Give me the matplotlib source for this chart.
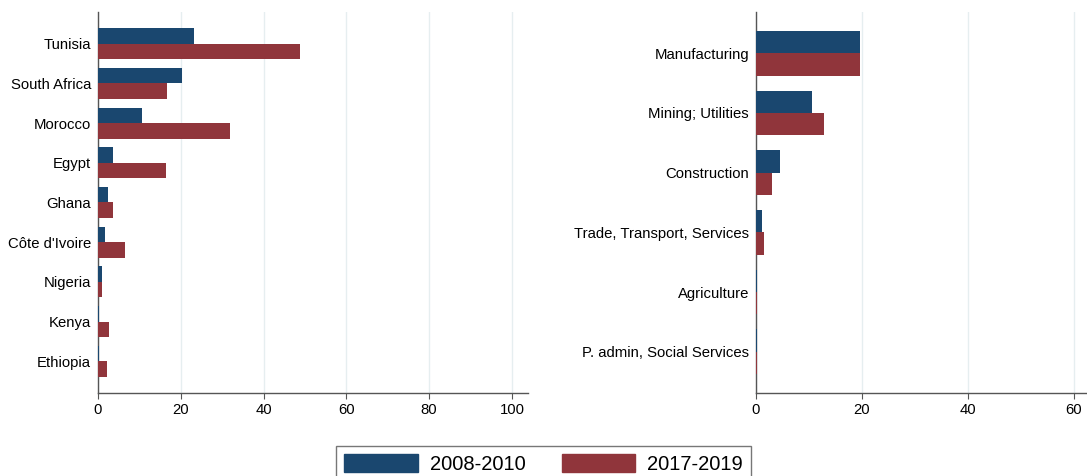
import matplotlib.pyplot as plt
import numpy as np

plt.rcParams['font.family'] = ['Liberation Sans', 'DejaVu Sans']

countries = ["Tunisia", "South Africa", "Morocco", "Egypt", "Ghana",
             "Côte d'Ivoire", "Nigeria", "Kenya", "Ethiopia"]
country_0810 = [23.1, 20.2, 10.6, 3.6, 2.4, 1.7, 0.9, 0.35, 0.15]
country_1719 = [48.9, 16.6, 32.0, 16.3, 3.6, 6.5, 0.9, 2.6, 2.2]

sectors = ["Manufacturing", "Mining; Utilities", "Construction",
           "Trade, Transport, Services", "Agriculture", "P. admin, Social Services"]
sector_0810 = [19.6, 10.5, 4.5, 1.1, 0.15, 0.15]
sector_1719 = [19.6, 12.8, 3.0, 1.5, 0.15, 0.15]

periods = ["2008-2010", "2017-2019"]
blue = "#1a476f"
red = "#90353b"

fig = plt.figure(figsize=(10.87, 4.76), dpi=100)
ax1 = fig.add_axes([0.0902, 0.1744, 0.3956, 0.8004])
ax2 = fig.add_axes([0.6955, 0.1744, 0.3045, 0.8004])


def panel(ax, cats, v1, v2, width, xmax, margin, ticks):
    y = np.arange(len(cats))
    ax.barh(y - width / 2, v1, height=width, color=blue, zorder=3)
    ax.barh(y + width / 2, v2, height=width, color=red, zorder=3)
    ax.set_yticks(y)
    ax.set_yticklabels(cats, fontsize=10.7)
    ax.set_ylim(len(cats) - 1 + margin, -margin)
    ax.set_xlim(0, xmax)
    ax.set_xticks(ticks)
    ax.tick_params(axis="x", labelsize=10.7, length=4, color="#555555")
    ax.tick_params(axis="y", length=0, pad=5)
    ax.grid(axis="x", color="#e6eef0", linewidth=1, zorder=0)
    for s in ["top", "right"]:
        ax.spines[s].set_visible(False)
    for s in ["left", "bottom"]:
        ax.spines[s].set_color("#555555")
        ax.spines[s].set_linewidth(1)


panel(ax1, countries, country_0810, country_1719, 0.39, 103.9, 0.8, [0, 20, 40, 60, 80, 100])
panel(ax2, sectors, sector_0810, sector_1719, 0.375, 62.45, 0.69, [0, 20, 40, 60])

handles = [plt.Rectangle((0, 0), 1, 1, color=blue), plt.Rectangle((0, 0), 1, 1, color=red)]
leg = fig.legend(handles, periods, loc="lower center", bbox_to_anchor=(0.5, -0.034),
                 ncol=2, fontsize=14.5, frameon=True, fancybox=False, edgecolor="#555555",
                 handlelength=3.65, handleheight=1.0, handletextpad=0.6,
                 columnspacing=1.8, borderpad=0.4)
leg.get_frame().set_linewidth(1)

fig.savefig("out.png", dpi=100)
